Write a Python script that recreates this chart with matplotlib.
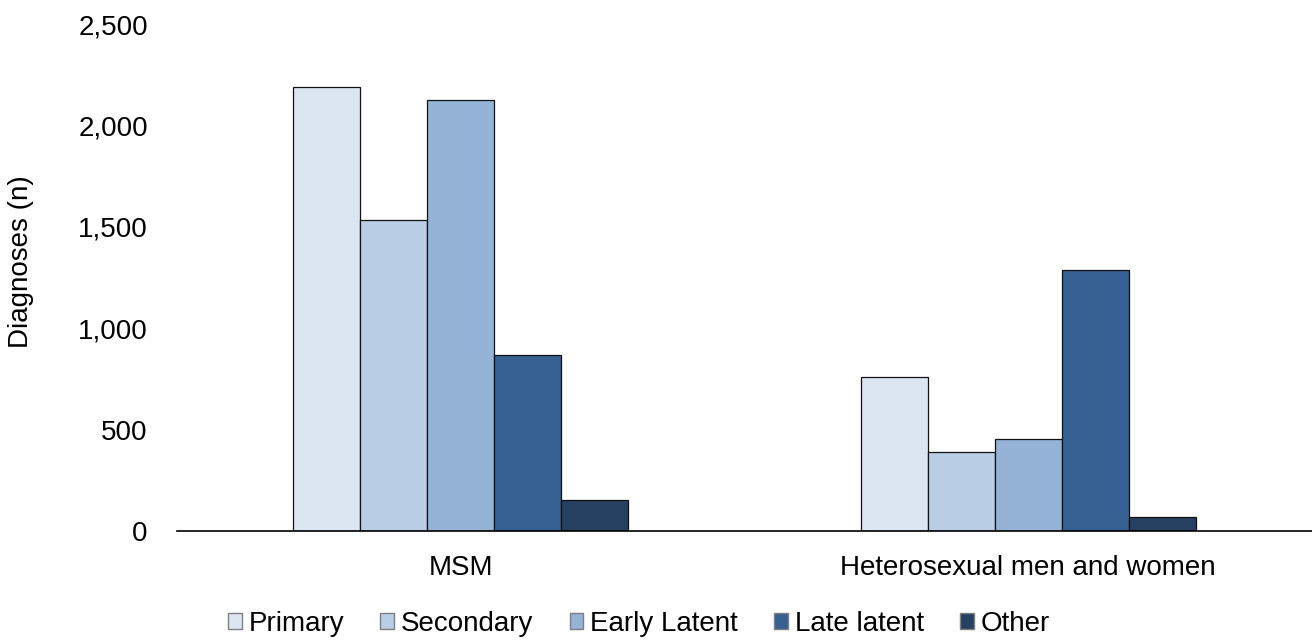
import matplotlib
matplotlib.use("Agg")
import matplotlib.pyplot as plt
from matplotlib.patches import Patch
from matplotlib import font_manager
import numpy as np

categories = ["MSM", "Heterosexual men and women"]
series = ["Primary", "Secondary", "Early Latent", "Late latent", "Other"]
primary = [2190, 760]
secondary = [1535, 390]
early_latent = [2125, 455]
late_latent = [868, 1287]
other = [153, 69]
values = [primary, secondary, early_latent, late_latent, other]
colors = ["#DCE6F2", "#B9CDE5", "#95B3D7", "#366092", "#254061"]
yticks = [0, 500, 1000, 1500, 2000, 2500]

plt.rcParams['font.family'] = ['Liberation Sans', 'DejaVu Sans']

try:
    font_manager.findfont(font_manager.FontProperties(family='Liberation Sans Narrow'),
                          fallback_to_default=False)
    leg_family = ['Liberation Sans Narrow', 'Liberation Sans']
    leg_size = 20
    colsp = 0.5
except Exception:
    leg_family = ['Liberation Sans']
    leg_size = 20
    colsp = 1.3

fig = plt.figure(figsize=(13.12, 6.41), dpi=100)
ax = fig.add_axes([177/1312, 1 - 531/641, 1 - 177/1312, (531 - 24)/641])

x = np.arange(len(categories))
n = len(series)
bw = 0.59 / n
for i, (name, vals, c) in enumerate(zip(series, values, colors)):
    ax.bar(x + (i - (n - 1) / 2) * bw, vals, width=bw, color=c,
           edgecolor="#111111", linewidth=0.9, label=name, zorder=2)

ax.set_xlim(-0.5, 1.5)
ax.set_ylim(0, 2500)
ax.set_yticks(yticks)
ax.set_yticklabels([f"{v:,}" for v in yticks])
ax.set_xticks(x)
ax.set_xticklabels(categories)
ax.tick_params(axis='both', length=0, labelsize=20, colors="#000000")
ax.tick_params(axis='y', pad=21)
ax.tick_params(axis='x', pad=17)
for s in ["top", "right", "left"]:
    ax.spines[s].set_visible(False)
ax.spines["bottom"].set_color("#000000")
ax.spines["bottom"].set_linewidth(1.2)
ax.set_ylabel("Diagnoses (n)", fontsize=20)
ax.yaxis.set_label_coords((34 - 177) / 1135, (531 - 262) / 507)

handles = [Patch(facecolor=c, edgecolor="#7f7f7f", linewidth=1.0) for c in colors]
fig.legend(handles, series, loc="center", bbox_to_anchor=(639/1312, 1 - 624/641),
           ncol=5, frameon=False, prop={'family': leg_family, 'size': leg_size},
           handlelength=0.5, handleheight=0.5, handletextpad=0.25,
           columnspacing=colsp, borderpad=0)

fig.savefig("out.png", dpi=100)
